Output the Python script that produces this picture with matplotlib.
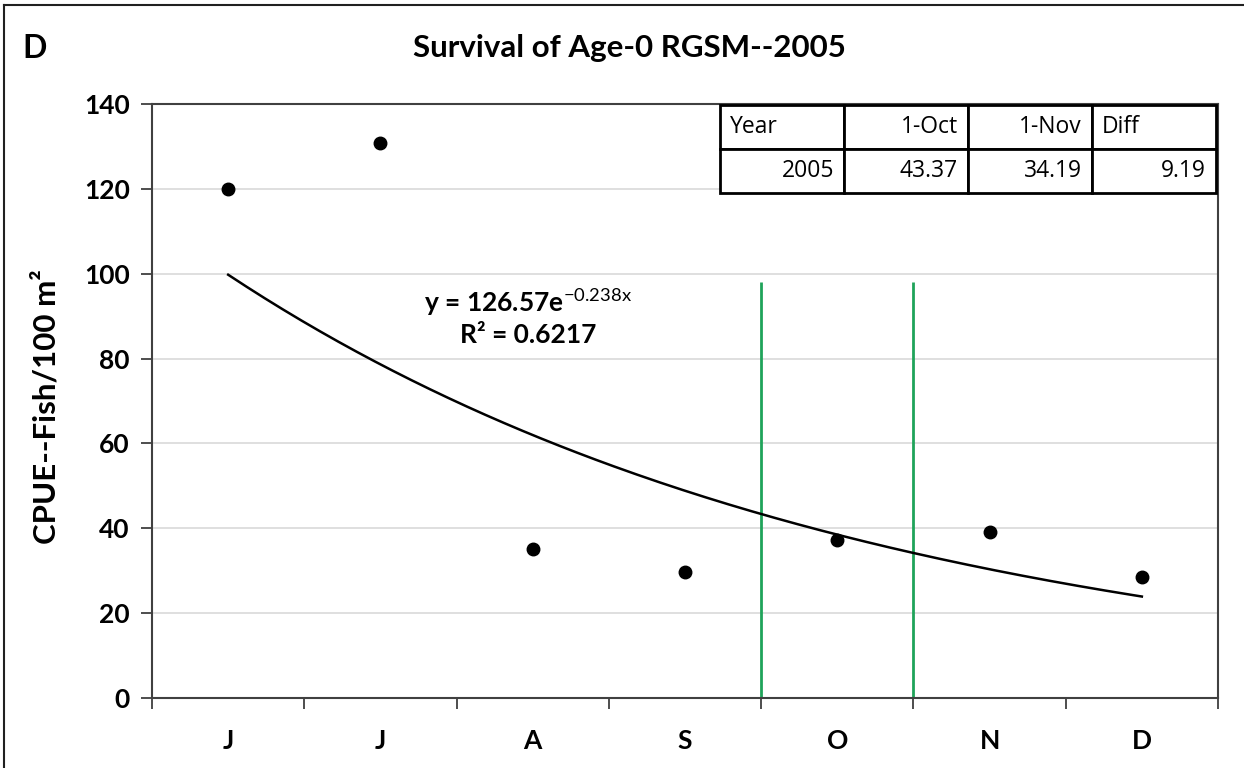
import matplotlib.pyplot as plt
import numpy as np
from matplotlib.lines import Line2D

plt.rcParams['font.family'] = ['Lato', 'DejaVu Sans']
plt.rcParams['mathtext.fontset'] = 'custom'
plt.rcParams['mathtext.rm'] = 'Lato'
plt.rcParams['mathtext.bf'] = 'Lato:bold'

# monthly CPUE of age-0 fish, 2005
months = ['J', 'J', 'A', 'S', 'O', 'N', 'D']
cpue = [120.0, 130.7, 35.1, 29.7, 37.2, 39.1, 28.5]

# exponential fit y = a*exp(b*x)
fit_a = 126.57
fit_b = -0.238
r2 = 0.6217

# 1-Oct and 1-Nov positions on the month axis
date_x = [4.5, 5.5]
date_top = 98

tab_head = ['Year', '1-Oct', '1-Nov', 'Diff']
tab_row = ['2005', '43.37', '34.19', '9.19']

x = np.arange(1, len(months) + 1)
xf = np.linspace(1, 7, 200)
yf = fit_a * np.exp(fit_b * xf)

fig = plt.figure(figsize=(12.44, 7.68), dpi=100)
ax = fig.add_axes([0.1222, 0.0911, 0.8569, 0.7735])

ax.set_xlim(0.5, 7.5)
ax.set_ylim(0, 140)
ax.set_yticks(np.arange(0, 141, 20))
ax.grid(axis='y', color='#d9d9d9', lw=1.2, zorder=0)
ax.set_axisbelow(True)

ax.set_xticks(np.arange(0.5, 7.6, 1))
ax.set_xticklabels([])
ax.set_xticks(x, minor=True)
ax.set_xticklabels(months, minor=True, fontweight='bold', fontsize=19)
ax.tick_params(axis='x', which='minor', length=0, pad=22)
ax.tick_params(axis='x', which='major', length=8, width=1.3, color='#404040')
ax.tick_params(axis='y', length=8, width=1.3, color='#404040', labelsize=19, pad=8)
for t in ax.get_yticklabels():
    t.set_fontweight('bold')
for s in ax.spines.values():
    s.set_color('#404040')
    s.set_linewidth(1.5)

ax.vlines(date_x, 0, date_top, color='#1fa35a', lw=2, zorder=2)
ax.plot(xf, yf, color='black', lw=1.8, zorder=3)
ax.plot(x, cpue, 'o', color='black', ms=9, zorder=4)

ax.text(2.97, 93.3, r'y = 126.57e$^{\mathrm{-0.238x}}$', ha='center', va='center',
        fontsize=19, fontweight='bold')
ax.text(2.97, 85.5, 'R\u00b2 = %.4f' % r2, ha='center', va='center',
        fontsize=19, fontweight='bold')

tab = ax.table(cellText=[tab_head, tab_row], bbox=[0.533, 0.851, 0.465, 0.148],
               zorder=5)
tab.auto_set_font_size(False)
for (r, c), cell in tab.get_celld().items():
    cell.set_linewidth(2)
    cell.set_edgecolor('black')
    cell.set_facecolor('white')
    txt = cell.get_text()
    txt.set_fontsize(16.5)
    txt.set_family(['Open Sans', 'DejaVu Sans'])
    left = (r == 0 and c in (0, 3))
    cell.set_text_props(ha='left' if left else 'right')
    cell.PAD = 0.08

ax.set_ylabel('CPUE--Fish/100 m\u00b2', fontsize=22.5, fontweight='bold')
ax.yaxis.set_label_coords(-0.086, 0.49)

fig.text(0.506, 0.937, 'Survival of Age-0 RGSM--2005', ha='center', va='center',
         fontsize=22.5, fontweight='bold')
fig.text(0.018, 0.937, 'D', ha='left', va='center', fontsize=23, fontweight='bold')

# frame around the panel
fig.add_artist(Line2D([0.0032, 0.0032], [0, 0.9935], color='#202020', lw=1.5))
fig.add_artist(Line2D([0.0032, 1], [0.9935, 0.9935], color='#202020', lw=1.5))

fig.savefig('out.png', dpi=100)
